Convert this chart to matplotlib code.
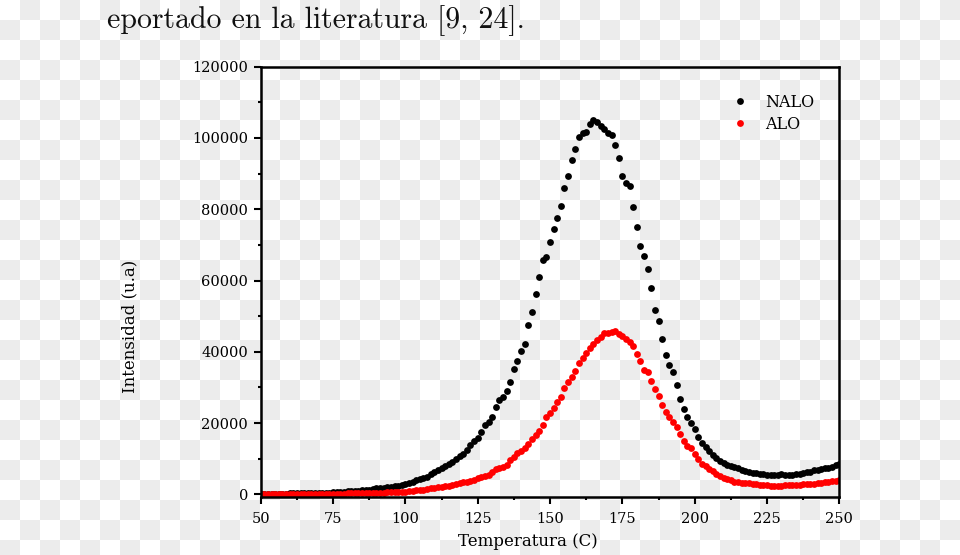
import numpy as np
import matplotlib
matplotlib.use("Agg")
import matplotlib.pyplot as plt

# intensities in thousands (u.a.), read every 1.25 C from 50 to 250 C
nalo = [
    0.10, 0.10, 0.10, 0.15, 0.15, 0.20, 0.20, 0.20,
    0.25, 0.25, 0.30, 0.30, 0.30, 0.35, 0.35, 0.40,
    0.40, 0.45, 0.50, 0.50, 0.55, 0.60, 0.65, 0.75,
    0.85, 0.90, 1.00, 1.05, 1.10, 1.20, 1.35, 1.50,
    1.70, 1.80, 1.90, 2.00, 2.20, 2.30, 2.45, 2.60,
    2.80, 3.10, 3.50, 3.90, 4.20, 4.60, 5.00, 5.60,
    6.20, 6.90, 7.50, 8.00, 8.50, 9.20, 10.0, 10.7,
    11.3, 12.4, 13.8, 15.0, 15.9, 17.5, 19.6, 20.3,
    21.6, 24.6, 26.4, 27.4, 29.0, 31.5, 35.1, 37.4,
    40.3, 42.2, 47.4, 51.3, 56.2, 61.1, 65.7, 66.5,
    70.8, 74.5, 77.5, 80.9, 85.9, 89.2, 93.8, 96.8,
    100.2, 101.3, 101.8, 103.8, 105.0, 104.5, 103.5, 102.6,
    101.5, 100.9, 97.9, 94.3, 89.3, 87.5, 86.5, 80.6,
    75.0, 69.6, 67.0, 63.3, 57.8, 51.7, 48.7, 43.7,
    39.2, 36.2, 34.4, 30.8, 26.8, 23.9, 21.7, 20.0,
    18.4, 16.2, 14.3, 13.2, 12.1, 11.0, 10.1, 9.4,
    8.8, 8.3, 7.9, 7.6, 7.3, 6.9, 6.6, 6.3,
    6.1, 5.9, 5.8, 5.6, 5.5, 5.4, 5.3, 5.5,
    5.8, 5.4, 5.3, 5.4, 5.6, 5.8, 6.0, 6.2,
    6.4, 6.7, 6.9, 7.2, 7.3, 7.5, 7.8, 8.1,
    8.5,
]

alo = [
    0.05, 0.05, 0.05, 0.05, 0.05, 0.05, 0.05, 0.05,
    0.05, 0.05, 0.10, 0.10, 0.10, 0.10, 0.10, 0.10,
    0.10, 0.10, 0.15, 0.15, 0.15, 0.20, 0.20, 0.20,
    0.25, 0.25, 0.30, 0.30, 0.35, 0.35, 0.40, 0.45,
    0.45, 0.50, 0.50, 0.55, 0.60, 0.60, 0.65, 0.65,
    0.70, 0.85, 1.00, 1.10, 1.20, 1.35, 1.50, 1.65,
    1.90, 2.00, 2.15, 2.30, 2.45, 2.60, 2.80, 3.10,
    3.40, 3.60, 3.80, 4.10, 4.50, 4.90, 5.20, 5.50,
    6.30, 7.00, 7.40, 7.70, 8.30, 9.60, 10.6, 11.6,
    12.2, 13.0, 14.1, 15.6, 16.6, 17.8, 19.4, 21.6,
    22.9, 24.2, 25.8, 27.3, 29.9, 31.4, 32.9, 34.5,
    37.0, 38.3, 39.6, 41.1, 42.2, 43.2, 44.2, 45.3,
    45.4, 45.6, 45.9, 45.0, 44.3, 43.5, 42.8, 41.6,
    39.4, 37.4, 35.0, 34.3, 31.8, 29.7, 27.5, 25.2,
    23.0, 21.6, 20.3, 18.9, 16.8, 15.1, 13.6, 13.1,
    11.2, 10.0, 8.4, 7.9, 7.1, 6.5, 5.7, 5.1,
    4.6, 4.2, 3.9, 3.6, 3.5, 3.3, 3.2, 3.1,
    2.9, 2.8, 2.7, 2.6, 2.5, 2.4, 2.3, 2.3,
    2.4, 2.5, 2.5, 2.6, 2.7, 2.7, 2.8, 2.8,
    2.9, 3.0, 3.2, 3.3, 3.4, 3.6, 3.7, 3.8,
    3.9,
]

temp = np.linspace(50, 250, len(nalo))
xticks = [50, 75, 100, 125, 150, 175, 200, 225, 250]
yticks = [0, 20000, 40000, 60000, 80000, 100000, 120000]

fig = plt.figure(figsize=(9.6, 5.55), dpi=100)
fig.patch.set_facecolor('white')

# transparent-png checkerboard behind everything
yy, xx = np.indices((555, 960))
dark = (yy // 20 + xx // 20) % 2 == 1
board = np.full((555, 960, 3), 255, dtype=np.uint8)
board[dark] = 236
fig.figimage(board, xo=0, yo=0, origin='upper', zorder=-10)

fig.text(0.1115, 0.949, 'eportado en la literatura [9, 24].',
         family='cmr10', fontsize=21.5, color='#111111', va='baseline')

ax = fig.add_axes([0.2716, 0.1054, 0.6027, 0.7744])
ax.set_facecolor('none')
ax.set_zorder(5)

ax.plot(temp, np.array(nalo) * 1000, 'o', color='black', ms=4.9, mew=0, label='NALO')
ax.plot(temp, np.array(alo) * 1000, 'o', color='#ff0000', ms=4.9, mew=0, label='ALO')

ax.set_xlim(50, 250)
ax.set_ylim(-600, 120000)
ax.set_xticks(xticks)
ax.set_yticks(yticks)
ax.set_xticks(np.arange(62.5, 250, 25), minor=True)
ax.set_yticks(np.arange(10000, 120000, 20000), minor=True)

for s in ax.spines.values():
    s.set_linewidth(1.8)
ax.tick_params(which='major', length=5, width=1.5, direction='out',
               labelsize=10.5, pad=4)
ax.tick_params(which='minor', length=2.5, width=1.5, direction='out')
ax.tick_params(axis='x', pad=6)
for lab in ax.get_xticklabels() + ax.get_yticklabels():
    lab.set_family('DejaVu Serif')

ax.set_xlabel('Temperatura (C)', family='DejaVu Serif', fontsize=12)
ax.set_ylabel('Intensidad (u.a)', family='DejaVu Serif', fontsize=12)
ax.xaxis.set_label_coords(0.462, -0.085)
ax.yaxis.set_label_coords(-0.211, 0.396)

leg = ax.legend(loc='upper left', bbox_to_anchor=(0.814, 0.937), frameon=False,
                borderpad=0, borderaxespad=0, handlelength=1.0, handletextpad=1.1,
                labelspacing=0.33, numpoints=1,
                prop={'family': 'DejaVu Serif', 'size': 11.5})

fig.savefig('out.png', dpi=100)
